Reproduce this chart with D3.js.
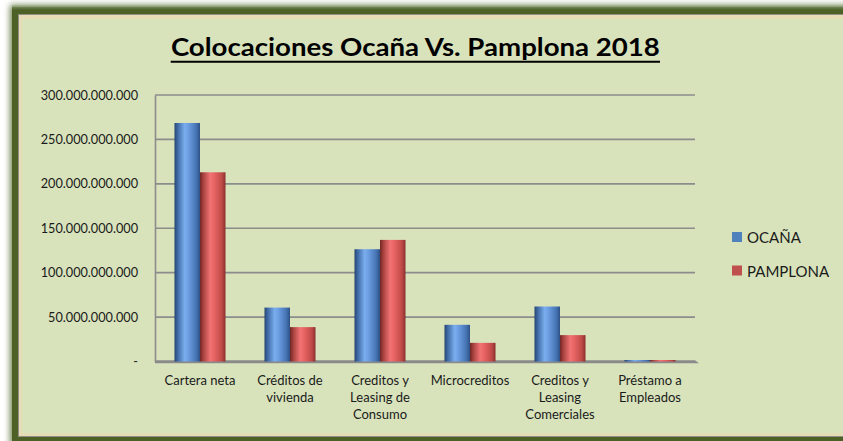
<!DOCTYPE html>
<html><head><meta charset="utf-8">
<script src="https://cdn.jsdelivr.net/npm/d3@7"></script>
<style>html,body{margin:0;padding:0;background:#fff;}svg{display:block;}</style>
</head><body>
<svg id="c" width="843" height="441"></svg>
<script>
const categories = ["Cartera neta","Créditos de vivienda","Creditos y Leasing de Consumo","Microcreditos","Creditos y Leasing Comerciales","Préstamo a Empleados"];
const categoryLines = [["Cartera neta"],["Créditos de","vivienda"],["Creditos y","Leasing de","Consumo"],["Microcreditos"],["Creditos y","Leasing","Comerciales"],["Préstamo a","Empleados"]];
const seriesNames = ["OCAÑA","PAMPLONA"];
const ocana = [268500000000, 60700000000, 126400000000, 41300000000, 61900000000, 900000000];
const pamplona = [213000000000, 38700000000, 136900000000, 21000000000, 29700000000, 700000000];
const yTicks = [0, 50000000000, 100000000000, 150000000000, 200000000000, 250000000000, 300000000000];
const title = "Colocaciones Ocaña Vs. Pamplona 2018";

const svg = d3.select("#c");
const defs = svg.append("defs");
const blur = defs.append("filter").attr("id","sh").attr("x","-5%").attr("y","-5%").attr("width","110%").attr("height","110%");
blur.append("feGaussianBlur").attr("stdDeviation",3);

function grad(id, stops){
  const g = defs.append("linearGradient").attr("id",id).attr("x1","0").attr("x2","1").attr("y1","0").attr("y2","0");
  stops.forEach(s=>g.append("stop").attr("offset",s[0]).attr("stop-color",s[1]));
}
grad("gb",[[0,"#27456f"],[0.12,"#3d68a3"],[0.4,"#7aaeee"],[0.55,"#6c9de2"],[0.85,"#4674b4"],[1,"#2d5185"]]);
grad("gr",[[0,"#6f2624"],[0.12,"#a5403d"],[0.4,"#f27373"],[0.55,"#e86563"],[0.85,"#bf4a47"],[1,"#8a302e"]]);
const topG = defs.append("linearGradient").attr("id","tg").attr("x1","0").attr("x2","0").attr("y1","0").attr("y2","1");
topG.append("stop").attr("offset",0).attr("stop-color","#a9b894");
topG.append("stop").attr("offset",1).attr("stop-color","#4a5f28");

// frame
svg.append("rect").attr("x",10).attr("y",5).attr("width",860).attr("height",440).attr("fill","#6f8450").attr("filter","url(#sh)");
svg.append("rect").attr("x",12).attr("y",7).attr("width",860).attr("height",440).attr("fill","#4d6127");
svg.append("rect").attr("x",12).attr("y",5).attr("width",860).attr("height",5).attr("fill","url(#tg)").attr("opacity",0.7);
svg.append("rect").attr("x",18).attr("y",14).attr("width",860).attr("height",423).attr("fill","#8f8f86");
svg.append("rect").attr("x",19).attr("y",15).attr("width",860).attr("height",421).attr("fill","#e6dcb6");
svg.append("rect").attr("x",22).attr("y",19).attr("width",860).attr("height",414).attr("fill","#d8e3bc");

const margin = {left:155, right:695, top:95, bottom:361.5};
const x = d3.scaleBand().domain(categories).range([margin.left, margin.right]).paddingInner(0.433).paddingOuter(0.2165);
const xs = d3.scaleBand().domain(seriesNames).range([0, x.bandwidth()]);
const y = d3.scaleLinear().domain([0,300000000000]).range([margin.bottom, margin.top]);

const loc = d3.formatLocale({decimal:",", thousands:".", grouping:[3], currency:["",""]});
const fmt = loc.format(",.0f");

// gridlines
svg.append("g").selectAll("line").data(yTicks.filter(d=>d>0)).join("line")
  .attr("x1",margin.left).attr("x2",margin.right)
  .attr("y1",d=>y(d)).attr("y2",d=>y(d))
  .attr("stroke","#8c8c8c").attr("stroke-width",1.6);

// y axis
const yAxis = svg.append("g").attr("transform",`translate(${margin.left},0)`)
  .call(d3.axisLeft(y).tickValues(yTicks).tickSize(0).tickPadding(17).tickFormat(d=>d===0?"-":fmt(d)));
yAxis.select(".domain").attr("stroke","#8c8c8c").attr("stroke-width",1.6);
yAxis.selectAll("text").attr("font-family","Lato, 'Open Sans', sans-serif").attr("font-size","12.7px").attr("fill","#1a1a1a");

// x axis baseline (floor)
svg.append("path")
  .attr("d",`M${margin.left},${y(0)-1.2} L${margin.right},${y(0)-1.2} L${margin.right+4},${y(0)+1.8} L${margin.left},${y(0)+1.8} Z`)
  .attr("fill","#8a8a8a");

// bars
const data = categories.map((c,i)=>({c, vals:[{s:"OCAÑA",v:ocana[i]},{s:"PAMPLONA",v:pamplona[i]}]}));
const grp = svg.append("g").selectAll("g").data(data).join("g").attr("transform",d=>`translate(${x(d.c)},0)`);
grp.selectAll("rect").data(d=>d.vals).join("rect")
  .attr("x",d=>xs(d.s)).attr("width",xs.bandwidth())
  .attr("y",d=>Math.min(y(d.v), y(0)-1.5)).attr("height",d=>Math.max(1.5,y(0)-y(d.v)))
  .attr("fill",d=>d.s==="OCAÑA"?"url(#gb)":"url(#gr)");

// category labels
const xl = svg.append("g").selectAll("text").data(categories).join("text")
  .attr("x",d=>x(d)+x.bandwidth()/2).attr("y",385)
  .attr("text-anchor","middle").attr("font-family","Lato, 'Open Sans', sans-serif").attr("font-size","13px").attr("fill","#1a1a1a");
xl.each(function(d,i){
  d3.select(this).selectAll("tspan").data(categoryLines[i]).join("tspan")
    .attr("x",x(d)+x.bandwidth()/2).attr("dy",(t,j)=>j===0?0:17).text(t=>t);
});

// title
svg.append("text").attr("x",415.4).attr("y",56).attr("text-anchor","middle")
  .attr("font-family","Lato, 'Open Sans', sans-serif").attr("font-weight","bold").attr("font-size","25.5px").attr("fill","#000")
  .attr("textLength",489).attr("lengthAdjust","spacingAndGlyphs").text(title);
svg.append("line").attr("x1",170.7).attr("x2",660).attr("y1",61.8).attr("y2",61.8).attr("stroke","#000").attr("stroke-width",2);

// legend
const colors = ["#4f81bd","#c0504d"];
const lg = svg.append("g").selectAll("g").data(seriesNames).join("g").attr("transform",(d,i)=>`translate(732,${232+i*33.5})`);
lg.append("rect").attr("width",10).attr("height",10).attr("fill",(d,i)=>colors[i]);
lg.append("text").attr("x",15).attr("y",11).attr("font-family","Lato, 'Open Sans', sans-serif").attr("font-size","15px").attr("fill","#1a1a1a").text(d=>d);
</script>
</body></html>
